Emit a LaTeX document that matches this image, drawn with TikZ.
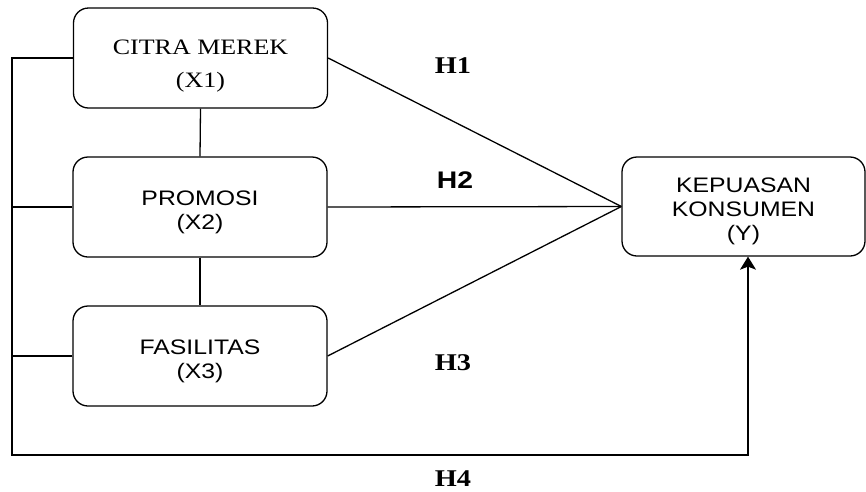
\documentclass[tikz,border=0pt]{standalone}
\usepackage{fontspec}
\setmainfont{Liberation Serif}
\newfontfamily\arialf[FakeStretch=1.18]{Liberation Sans}
\newfontfamily\timesf[FakeStretch=1.18]{Liberation Serif}
\usetikzlibrary{arrows.meta}
\newcommand{\lift}[1]{\rule{0pt}{#1}}
\begin{document}
\begin{tikzpicture}[x=1pt,y=-1pt,line width=1.3pt,
  box/.style={draw,rounded corners=15pt,minimum width=254pt,minimum height=100pt,align=center,inner sep=0pt},
  sanstxt/.style={font=\arialf\fontsize{21}{24}\selectfont},
  seriftxt/.style={font=\timesf\fontsize{22}{25}\selectfont},
  hser/.style={font=\timesf\bfseries\fontsize{24}{28}\selectfont,anchor=base},
  hsans/.style={font=\arialf\bfseries\fontsize{24}{28}\selectfont,anchor=base},
  link/.style={draw,line width=1.3pt},
  tip/.style={-{Stealth[length=13pt,width=16pt,inset=3pt]}}]
\useasboundingbox (0,0) rectangle (866,491);
\node[box,seriftxt] (x1) at (200.5,58) {\lift{30pt}CITRA MEREK\\[8pt](X1)};
\node[box,sanstxt] (x2) at (200,207) {\lift{25pt}PROMOSI\\(X2)};
\node[box,sanstxt] (x3) at (200,356) {\lift{25pt}FASILITAS\\(X3)};
\node[box,sanstxt,minimum width=243pt,minimum height=99pt] (y) at (743.5,206.5) {\lift{25pt}KEPUASAN\\KONSUMEN\\(Y)};
\coordinate (bl) at (12,455);
\coordinate (br) at (748,455);
\draw[link] (x1.east) -- (y.west);
\draw[link] (x2.east) -- (y.west);
\draw[link] (x3.east) -- (y.west);
\draw[link] (x1.south) -- (x2.north);
\draw[link] (x2.south) -- (x3.north);
\draw[link] (x2.west) -- (x2.west -| bl);
\draw[link] (x3.west) -- (x3.west -| bl);
\draw[link,tip] (x1.west) -| (bl) -- (br) -- (br |- y.south);
\node[hser] (h1) at (453,73) {H1};
\node[hsans] (h2) at (455,188) {H2};
\node[hser] (h3) at (453,370) {H3};
\node[hser] (h4) at (453,486) {H4};
\end{tikzpicture}
\end{document}
